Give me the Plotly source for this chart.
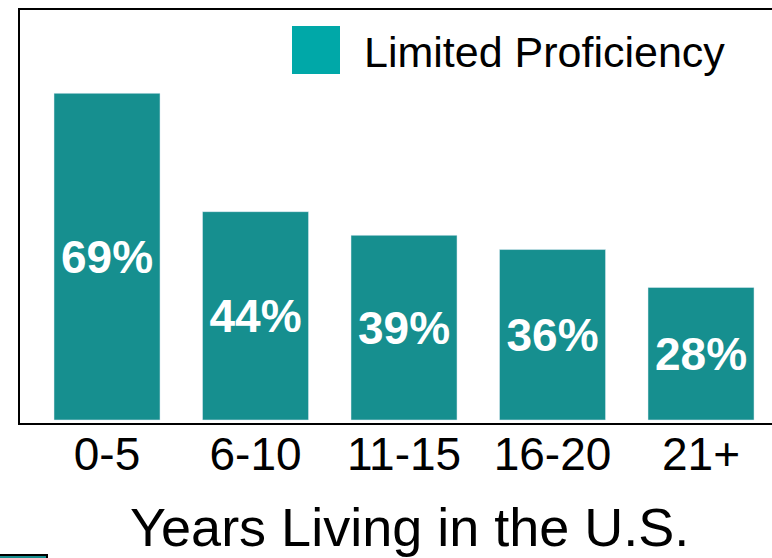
import plotly.graph_objects as go

# 在美国居住年限 vs 英语能力有限比例
years = ["0-5", "6-10", "11-15", "16-20", "21+"]
limited_pct = [69, 44, 39, 36, 28]
bar_labels = [f"{v}%" for v in limited_pct]

BAR_COLOR = "#168F8F"
LEGEND_COLOR = "#00A8A8"
FONT = "Liberation Sans, Arial, sans-serif"

fig = go.Figure()
fig.add_trace(go.Bar(
    x=years, y=limited_pct,
    name="Limited Proficiency",
    marker_color=BAR_COLOR,
    width=0.714,
    text=bar_labels,
    textposition="inside",
    insidetextanchor="middle",
    textangle=0,
    textfont=dict(family=FONT, size=46, color="white", weight="bold"),
    showlegend=False,
))

# 手工图例：大色块 + 文字
fig.add_shape(type="rect", xref="paper", yref="paper",
              x0=(292 - 20) / 752, x1=(340 - 20) / 752,
              y0=(423 - 74) / 413, y1=(423 - 26) / 413,
              fillcolor=LEGEND_COLOR, line_width=0)
fig.add_annotation(text="Limited Proficiency", xref="paper", yref="paper",
                   x=(362 - 20) / 752, y=(423 - 52) / 413,
                   xanchor="left", yanchor="middle", showarrow=False,
                   font=dict(family=FONT, size=43, color="black"))

# x 轴标题
fig.add_annotation(text="Years Living in the U.S.", xref="paper", yref="paper",
                   x=(410 - 20) / 752, y=-(527 - 423) / 413,
                   xanchor="center", yanchor="middle", showarrow=False,
                   font=dict(family=FONT, size=54, color="black"))

# 左下角残留的色块
fig.add_shape(type="rect", xref="paper", yref="paper",
              x0=-25 / 752, x1=(47 - 20) / 752,
              y0=-(565 - 423) / 413, y1=-(555 - 423) / 413,
              fillcolor=BAR_COLOR, line=dict(color="black", width=2))

fig.update_layout(
    width=772, height=558,
    margin=dict(l=20, r=0, t=10, b=135),
    paper_bgcolor="white", plot_bgcolor="white",
    font=dict(family=FONT, color="black"),
    xaxis=dict(
        range=[-0.586, 4.478],
        showline=True, linecolor="black", linewidth=2, mirror=True,
        showgrid=False, ticks="",
        ticklabelstandoff=-10,
        tickfont=dict(family=FONT, size=46, color="black"),
    ),
    yaxis=dict(
        range=[-0.64, 86.6],
        showline=True, linecolor="black", linewidth=2,
        showgrid=False, zeroline=False, showticklabels=False, ticks="",
    ),
)

fig.write_html("out.html", config={"displayModeBar": False},
               post_script="document.body.style.margin='0';")
